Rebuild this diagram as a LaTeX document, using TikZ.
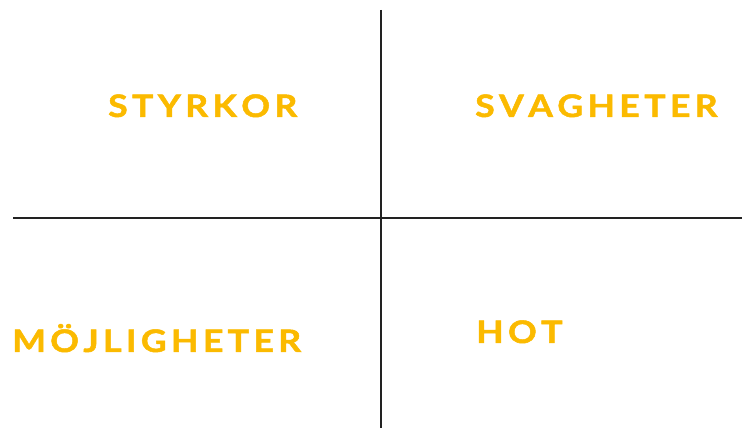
\documentclass[tikz,border=0pt]{standalone}
\usepackage{fontspec}
\setsansfont{Lato}[BoldFeatures={FakeBold=1.6, FakeStretch=1.15}]
\definecolor{swotyellow}{HTML}{FBBA00}
\definecolor{darkline}{HTML}{222222}
% letter by letter tracking
\newcommand\tracked[1]{\trackedloop#1\relax}
\def\trackedloop#1{\ifx#1\relax\else#1\kern0.14em\expandafter\trackedloop\fi}
\tikzset{
  quadlabel/.style={anchor=base west, inner sep=0pt, font=\sffamily\bfseries\fontsize{31}{36}\selectfont, text=swotyellow},
  divider/.style={draw=darkline, line width=1.7pt}
}

\begin{document}
\begin{tikzpicture}[x=1pt, y=1pt]
\useasboundingbox (0,0) rectangle (742,428);

% Cross dividing the four fields.
\coordinate (top) at (381,418);
\coordinate (bottom) at (381,0);
\coordinate (left) at (13,210);
\coordinate (right) at (742,210);
\draw[divider] (top) -- (bottom);
\draw[divider] (left) -- (right);

% Field labels.
\node[quadlabel] (styrkor) at (108,311) {\tracked{STYRKOR}};
\node[quadlabel] (svagheter) at (475,311) {\tracked{SVAGHETER}};
\node[quadlabel] (mojligheter) at (12,76) {\tracked{MÖJLIGHETER}};
\node[quadlabel] (hot) at (476,85) {\tracked{HOT}};

\end{tikzpicture}
\end{document}
